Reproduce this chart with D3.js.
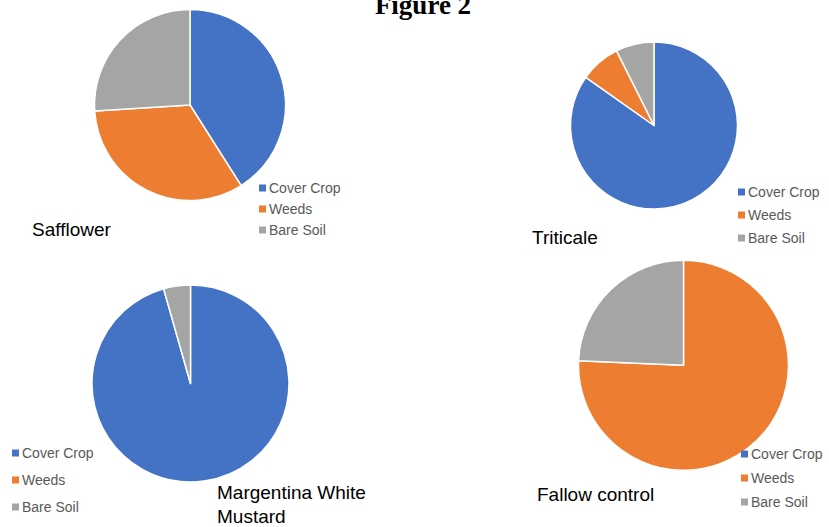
<html>
<head>
    <script src="https://cdnjs.cloudflare.com/ajax/libs/d3/7.8.5/d3.min.js"></script>
    <style>
        body { margin: 0; background: #fff; }
    </style>
</head>
<body>
    <script>
        var categories = ["Cover Crop", "Weeds", "Bare Soil"];
        var colors = ["#4472C4", "#ED7D31", "#A5A5A5"];

        var safflower = [41, 33, 26];
        var triticale = [84.8, 7.8, 7.4];
        var mustard = [95.6, 0, 4.4];
        var fallow = [0, 75.7, 24.3];

        var w = 829,
            h = 527;

        // layout for each of the four pies
        var panels = [
            { values: safflower, label: ["Safflower"], cx: 190, cy: 105, r: 95.5,
              lx: 32, ly: 236, legX: 259, legY: 188, legStep: 21 },
            { values: triticale, label: ["Triticale"], cx: 654, cy: 125.5, r: 83.5,
              lx: 532, ly: 244, legX: 738, legY: 192, legStep: 23 },
            { values: mustard, label: ["Margentina White", "Mustard"], cx: 190.5, cy: 383.5, r: 98.5,
              lx: 217, ly: 499, legX: 12, legY: 453, legStep: 27 },
            { values: fallow, label: ["Fallow control"], cx: 683.5, cy: 365.3, r: 105,
              lx: 537, ly: 501, legX: 741, legY: 454, legStep: 24 }
        ];

        var svg = d3.select("body")
            .append("svg")
            .attr("width", w)
            .attr("height", h);

        svg.append("text")
            .attr("x", 423)
            .attr("y", 14)
            .attr("text-anchor", "middle")
            .style("font-family", "'Liberation Serif', 'DejaVu Serif', serif")
            .style("font-weight", "bold")
            .style("font-size", "27px")
            .text("Figure 2");

        var pie = d3.pie().sort(null).value(function (d) { return d; });

        panels.forEach(function (p) {
            var g = svg.append("g")
                .attr("transform", "translate(" + p.cx + "," + p.cy + ")");

            var arc = d3.arc().innerRadius(0).outerRadius(p.r);

            g.selectAll("path")
                .data(pie(p.values).filter(function (d) { return d.value > 0; }))
                .enter()
                .append("path")
                .attr("d", arc)
                .attr("fill", function (d) { return colors[d.index]; })
                .attr("stroke", "#fff")
                .attr("stroke-width", 1.5)
                .attr("stroke-linejoin", "round");

            var lab = svg.append("text")
                .attr("x", p.lx)
                .attr("y", p.ly)
                .style("font-family", "'Liberation Sans', Arial, sans-serif")
                .style("font-size", "19px")
                .style("fill", "#000");
            lab.selectAll("tspan")
                .data(p.label)
                .enter()
                .append("tspan")
                .attr("x", p.lx)
                .attr("dy", function (d, i) { return i === 0 ? 0 : 24; })
                .text(function (d) { return d; });

            var leg = svg.append("g")
                .attr("transform", "translate(" + p.legX + "," + p.legY + ")");
            var items = leg.selectAll("g")
                .data(categories)
                .enter()
                .append("g")
                .attr("transform", function (d, i) { return "translate(0," + i * p.legStep + ")"; });
            items.append("rect")
                .attr("x", 0)
                .attr("y", -3.5)
                .attr("width", 7)
                .attr("height", 7)
                .attr("fill", function (d, i) { return colors[i]; });
            items.append("text")
                .attr("x", 10)
                .attr("y", 5)
                .style("font-family", "'Liberation Sans', Arial, sans-serif")
                .style("font-size", "14px")
                .style("fill", "#595959")
                .text(function (d) { return d; });
        });
    </script>
</body>
</html>
